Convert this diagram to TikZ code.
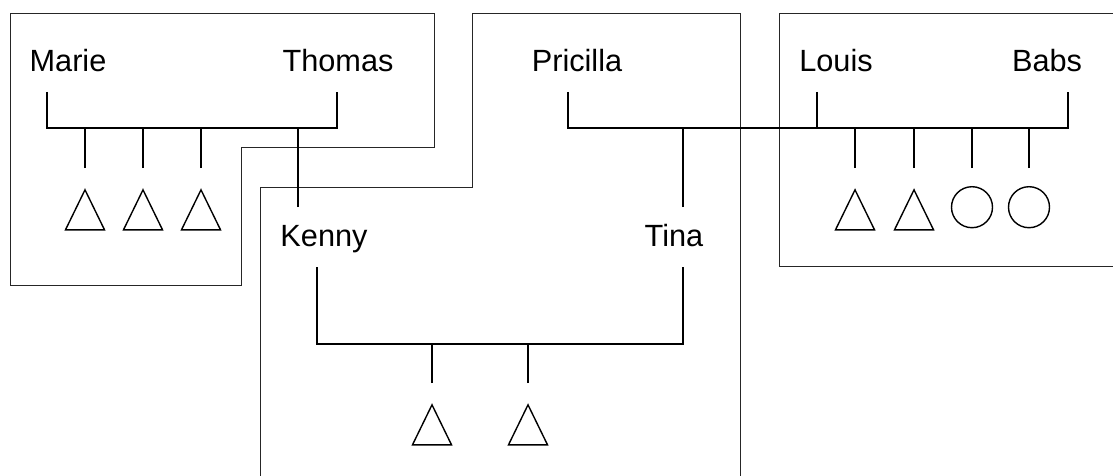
\documentclass[tikz,border=0pt]{standalone}
\usepackage{fontspec}
\setmainfont{Liberation Sans}
\usepackage{tikz}
\usetikzlibrary{calc, positioning, shapes.geometric}

\tikzset{
	person/.style={inner sep=0, anchor=base, font=\fontsize{30.7}{36}\selectfont},
	kin/.style={line width=1.1pt},
	household/.style={line width=0.8pt, black!85},
	male/.style={draw, line width=1.4pt, isosceles triangle, shape border rotate=90, isosceles triangle stretches, minimum width=39pt, minimum height=40pt, inner sep=0, anchor=apex},
	female/.style={draw, line width=1.4pt, circle, minimum size=41pt, inner sep=0, anchor=north}
}

\begin{document}
\begin{tikzpicture}[x=1pt, y=-1pt]
	\useasboundingbox (0,0) rectangle (1113,476);

		% nodes - names %
		\node[person] (marie) at (68,72) {Marie};
		\node[person] (thomas) at (338,72) {Thomas};
		\node[person] (pricilla) at (577,72) {Pricilla};
		\node[person] (louis) at (836,72) {Louis};
		\node[person] (babs) at (1047,72) {Babs};
		\node[person] (kenny) at (324,246) {Kenny};
		\node[person] (tina) at (674,246) {Tina};

		% nodes - children %
		\node[male] (mt1) at (85,188) {};
		\node[male] (mt2) at (143,188) {};
		\node[male] (mt3) at (201,188) {};
		\node[male] (lb1) at (855,188) {};
		\node[male] (lb2) at (914,188) {};
		\node[female] (lb3) at (972,186) {};
		\node[female] (lb4) at (1029,186) {};
		\node[male] (kt1) at (432,403) {};
		\node[male] (kt2) at (528,403) {};

		% drop points %
		\coordinate (marie-d) at (47,92);
		\coordinate (thomas-d) at (337,92);
		\coordinate (pricilla-d) at (568,92);
		\coordinate (louis-d) at (817,92);
		\coordinate (babs-d) at (1068,92);
		\coordinate (kenny-d) at (317,267);
		\coordinate (tina-d) at (683,267);
		\coordinate (kenny-u) at (298,207);
		\coordinate (tina-u) at (683,207);
		\coordinate (mt) at (0,128);
		\coordinate (kt) at (0,344);

		% households %
		\draw[household] (10,13) -- (434,13) -- (434,147) -- (241,147) -- (241,285) -- (10,285) -- cycle;
		\draw[household] (260,476) -- (260,187) -- (472,187) -- (472,13) -- (740,13) -- (740,476);
		\draw[household] (1113,13) -- (779,13) -- (779,266) -- (1113,266);

		% edges %
		\draw[kin] (marie-d) -- (marie-d |- mt) -- (thomas-d |- mt) -- (thomas-d);
		\draw[kin] (pricilla-d) -- (pricilla-d |- mt) -- (babs-d |- mt) -- (babs-d);
		\draw[kin] (louis-d) -- (louis-d |- mt);
		\draw[kin] (kenny-d) -- (kenny-d |- kt) -- (tina-d |- kt) -- (tina-d);
		\draw[kin] (kenny-u) -- (kenny-u |- mt);
		\draw[kin] (tina-u) -- (tina-u |- mt);
		\foreach \c/\l in {mt1/mt, mt2/mt, mt3/mt, lb1/mt, lb2/mt, kt1/kt, kt2/kt}
			\draw[kin] ([yshift=20pt]\c.apex) -- (\c.apex |- \l);
		\foreach \c in {lb3, lb4}
			\draw[kin] ([yshift=18pt]\c.north) -- (\c.north |- mt);

\end{tikzpicture}
\end{document}
